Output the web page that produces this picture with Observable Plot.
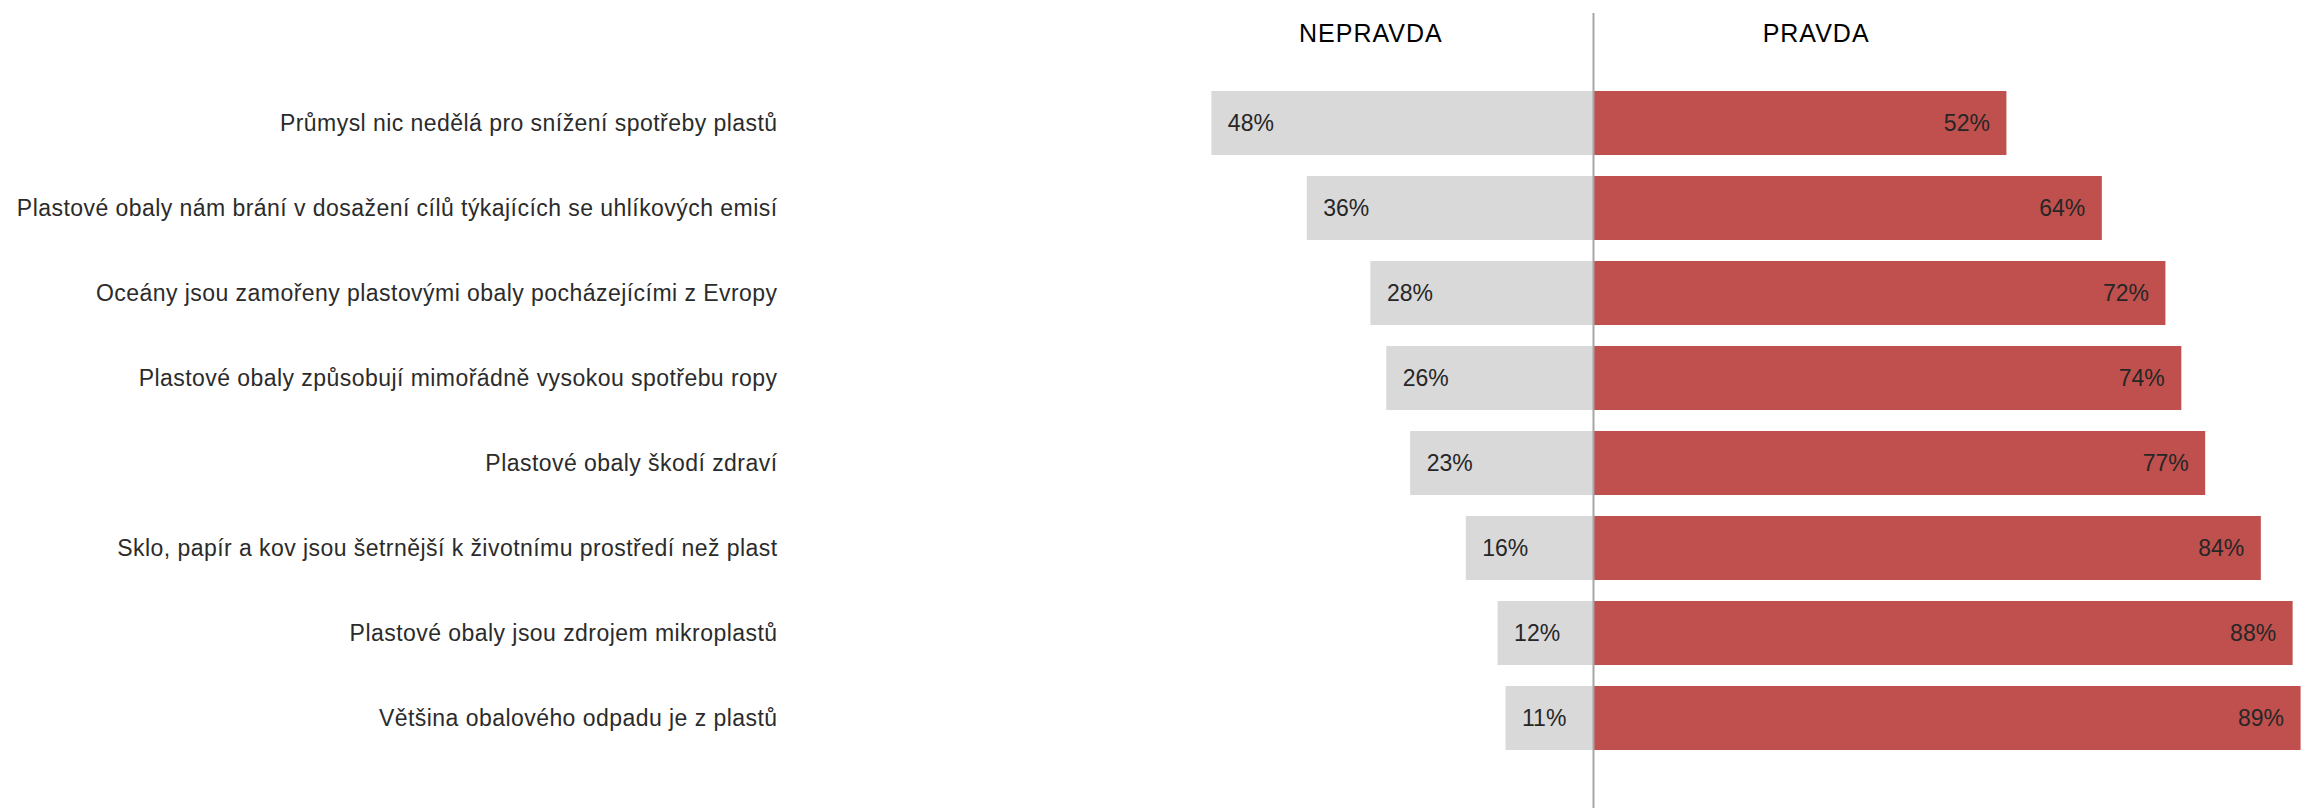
<!DOCTYPE html>
<html>
<head>
<meta charset="utf-8">
<script src="https://cdn.jsdelivr.net/npm/d3@7"></script>
<script src="https://cdn.jsdelivr.net/npm/@observablehq/plot@0.6"></script>
<style>
  html, body { margin: 0; padding: 0; background: #fff; }
  svg { display: block; }
  g[aria-label="y-axis tick label"] text { letter-spacing: 0.45px; }
  g.headers text { letter-spacing: 1px; }
</style>
</head>
<body>
<div id="chart"></div>
<script>
const categories = [
  "Průmysl nic nedělá pro snížení spotřeby plastů",
  "Plastové obaly nám brání v dosažení cílů týkajících se uhlíkových emisí",
  "Oceány jsou zamořeny plastovými obaly pocházejícími z Evropy",
  "Plastové obaly způsobují mimořádně vysokou spotřebu ropy",
  "Plastové obaly škodí zdraví",
  "Sklo, papír a kov jsou šetrnější k životnímu prostředí než plast",
  "Plastové obaly jsou zdrojem mikroplastů",
  "Většina obalového odpadu je z plastů"
];
const nepravda = [48, 36, 28, 26, 23, 16, 12, 11];
const pravda = [52, 64, 72, 74, 77, 84, 88, 89];
const headerLabels = ["NEPRAVDA", "PRAVDA"];
const headerPositions = [-28, 28];

const rows = categories.map((c, i) => ({cat: c, no: nepravda[i], yes: pravda[i]}));
const headers = headerLabels.map((t, i) => ({t, x: headerPositions[i]}));

const chart = Plot.plot({
  width: 2311,
  height: 808,
  marginLeft: 790,
  marginRight: 0,
  marginTop: 67,
  marginBottom: 34,
  style: {fontFamily: "'Liberation Sans', Arial, sans-serif", color: "#2b2b2b", background: "#fff"},
  x: {domain: [-101.0, 90.31], axis: null},
  y: {domain: categories, padding: 0.25, label: null},
  marks: [
    Plot.barX(rows, {y: "cat", x1: d => -d.no, x2: 0, fill: "#D9D9D9"}),
    Plot.barX(rows, {y: "cat", x1: 0, x2: "yes", fill: "#C0504D"}),
    Plot.text(rows, {y: "cat", x: d => -d.no, text: d => d.no + "%", textAnchor: "start", dx: 16, fontSize: 23, fill: "#262626"}),
    Plot.text(rows, {y: "cat", x: "yes", text: d => d.yes + "%", textAnchor: "end", dx: -17, fontSize: 23, fill: "#262626"}),
    Plot.text(headers, {x: "x", text: "t", frameAnchor: "top", dy: -43, fontSize: 25, fill: "#000", className: "headers"}),
    Plot.ruleX([0], {stroke: "#A6A6A6", strokeWidth: 2, insetTop: -54, insetBottom: -34}),
    Plot.axisY({tickSize: 0, tickPadding: 13, fontSize: 23, label: null})
  ]
});
document.getElementById("chart").append(chart);
</script>
</body>
</html>
